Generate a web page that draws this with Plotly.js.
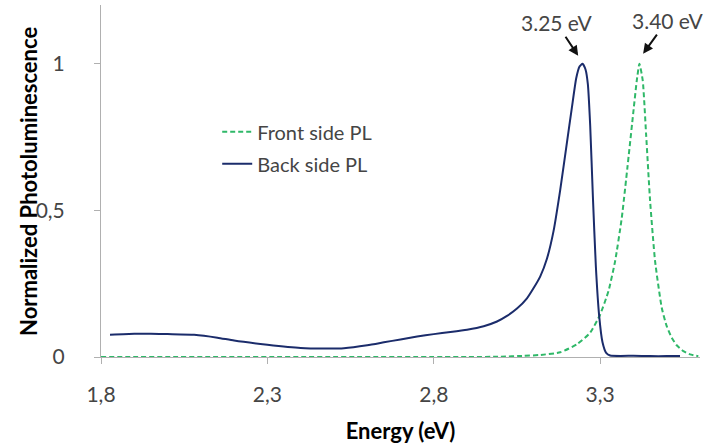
<!DOCTYPE html>
<html>
<head>
<meta charset="utf-8">
<script src="https://cdn.plot.ly/plotly-3.0.1.min.js"></script>
<style>html,body{margin:0;padding:0;background:#fff;}#chart{width:713px;height:445px;}</style>
</head>
<body>
<div id="chart"></div>
<script>
// Back side PL
var energyBack = [1.827,1.90,1.95,2.00,2.08,2.15,2.20,2.30,2.40,2.47,2.53,2.60,2.65,2.70,2.75,2.80,2.85,2.90,2.95,2.99,3.02,3.05,3.08,3.10,3.12,3.14,3.16,3.18,3.20,3.215,3.228,3.238,3.247,3.256,3.263,3.27,3.278,3.287,3.297,3.307,3.318,3.33,3.40,3.45,3.50,3.54];
var backPL = [0.076,0.079,0.079,0.078,0.076,0.066,0.056,0.042,0.031,0.029,0.030,0.040,0.050,0.060,0.070,0.078,0.085,0.093,0.105,0.121,0.140,0.165,0.200,0.235,0.275,0.335,0.43,0.57,0.73,0.85,0.95,0.99,1.0,0.98,0.93,0.79,0.55,0.31,0.14,0.05,0.014,0.005,0.004,0.003,0.003,0.003];
// Front side PL
var energyFront = [1.80,2.90,3.00,3.07,3.12,3.18,3.23,3.27,3.30,3.325,3.345,3.365,3.382,3.398,3.41,3.418,3.428,3.438,3.45,3.465,3.485,3.50,3.515,3.53,3.55,3.57,3.595];
var frontPL = [0,0,0.001,0.004,0.007,0.016,0.043,0.083,0.145,0.225,0.327,0.475,0.647,0.817,0.942,1.0,0.942,0.76,0.533,0.327,0.168,0.105,0.066,0.04,0.02,0.009,0.003];
var seriesNames = ["Front side PL","Back side PL"];
var peakLabels = ["3.25 eV","3.40 eV"];
var xTicks = [1.8,2.3,2.8,3.3];
var yTicks = [0,0.5,1];
var xTitle = "Energy (eV)";
var yTitle = "Normalized Photoluminescence";

var traces = [
  {x: energyFront, y: frontPL, name: seriesNames[0], type: "scatter", mode: "lines",
   line: {color: "#2fb868", width: 2, dash: "5px,3px", shape: "spline", smoothing: 0.5}, legendgroup: "f"},
  {x: energyBack, y: backPL, name: seriesNames[1], type: "scatter", mode: "lines",
   line: {color: "#1b2c6b", width: 2, shape: "spline", smoothing: 0.5}, legendgroup: "b"}
];

var layout = {
  width: 713, height: 445,
  margin: {l: 101, r: 13, t: 5, b: 88},
  paper_bgcolor: "#fff", plot_bgcolor: "#fff",
  font: {family: "Lato, 'Open Sans', sans-serif", size: 21, color: "#454545"},
  showlegend: true,
  legend: {x: 0.194, y: 0.695, xanchor: "left", yanchor: "top", bgcolor: "rgba(0,0,0,0)",
           font: {size: 20, color: "#454545"}, traceorder: "grouped", tracegroupgap: 3},
  xaxis: {range: [1.8, 3.6], tickvals: xTicks, ticktext: xTicks.map(function(v){return v.toFixed(1).replace('.', ',');}),
          showgrid: false, zeroline: false, showline: true, linecolor: "#b0b0b0", linewidth: 1,
          ticks: "outside", ticklen: 6, tickcolor: "#b0b0b0", ticklabelstandoff: 13,
          title: {text: xTitle, font: {size: 22, color: "#000", family: "Lato, sans-serif", weight: "bold"}, standoff: 18}},
  yaxis: {range: [0, 1.2], tickvals: yTicks, ticktext: yTicks.map(function(v){return String(v).replace('.', ',');}),
          showgrid: false, zeroline: false, showline: true, linecolor: "#b0b0b0", linewidth: 1,
          ticks: "outside", ticklen: 6, tickcolor: "#b0b0b0", ticklabelstandoff: 25},
  annotations: [
    {x: 3.234, y: 1.027, xref: "x", yref: "y", text: peakLabels[0], showarrow: true, arrowhead: 2, arrowsize: 1, arrowwidth: 2,
     arrowcolor: "#111", ax: -22, ay: -33, font: {size: 21, color: "#454545"}},
    {x: 3.429, y: 1.034, xref: "x", yref: "y", text: peakLabels[1], showarrow: true, arrowhead: 2, arrowsize: 1, arrowwidth: 2,
     arrowcolor: "#111", ax: 24, ay: -33, font: {size: 21, color: "#454545"}},
    {x: -0.1219, y: 0.5, xref: "paper", yref: "paper", text: yTitle, textangle: -90, showarrow: false,
     xanchor: "center", yanchor: "middle", font: {size: 22, color: "#000", family: "Lato, sans-serif", weight: "bold"}}
  ]
};

Plotly.newPlot("chart", traces, layout, {staticPlot: true, displayModeBar: false});
</script>
</body>
</html>
